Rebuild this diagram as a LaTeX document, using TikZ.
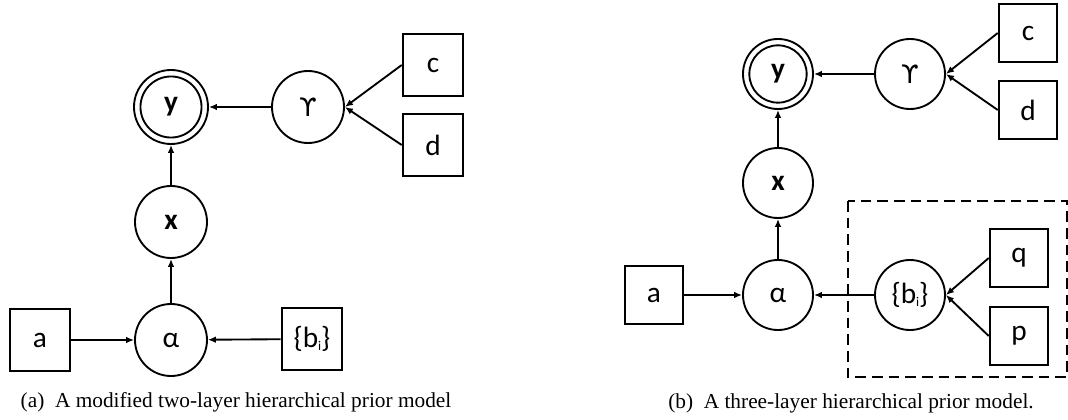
\documentclass[tikz,border=0pt]{standalone}
\usepackage{fontspec}
\setmainfont{Liberation Serif}
\newfontfamily\calfont{Carlito}
\newfontfamily\symfont{DejaVu Sans}
\usetikzlibrary{arrows.meta}
\newcommand{\bsub}{\{b\raisebox{-0.2ex}{\fontsize{10pt}{10pt}\selectfont i}\}}
\newcommand{\ups}{{\symfont\fontsize{19pt}{22pt}\selectfont ϒ}}
\begin{document}
\begin{tikzpicture}[x=0.75pt,y=-0.75pt,
  lbl/.style={font=\calfont\fontsize{22pt}{26pt}\selectfont},
  lw/.style={line width=1.4pt},
  circA/.style={lbl,circle,draw,lw,minimum size=54pt,inner sep=0pt},
  circB/.style={lbl,circle,draw,lw,minimum size=52.5pt,inner sep=0pt},
  boxA/.style={lbl,rectangle,draw,lw,minimum width=45.5pt,minimum height=46.5pt,inner sep=0pt},
  boxB/.style={lbl,rectangle,draw,lw,minimum width=44pt,minimum height=44pt,inner sep=0pt},
  arr/.style={lw,-{Latex[length=6pt,width=5pt]}},
  captext/.style={font=\rmfamily\fontsize{16pt}{19pt}\selectfont,inner sep=0pt}
]
\useasboundingbox (0,0) rectangle (1068,420);
% ---------- panel (a)
\node[circA,minimum size=55.5pt] (ya) at (171,107) {\bfseries y};
\draw[lw] (ya.center) circle (22.9pt);
\node[circA] (ga) at (308,107) {\ups};
\node[boxA] (ca) at (433,65) {c};
\node[boxA] (da) at (433,145) {d};
\node[circA] (xa) at (171,222) {\bfseries x};
\node[circA] (aa) at (171,340) {α};
\node[boxA] (ba) at (40,340) {a};
\node[boxA] (bia) at (312,339) {\bsub};
\draw[arr] (ba) -- (aa);
\draw[arr] (bia) -- (aa);
\draw[arr] (aa) -- (xa);
\draw[arr] (xa) -- (ya);
\draw[arr] (ga) -- (ya);
\draw[arr] (ca.west) -- (ga.east);
\draw[arr] (da.west) -- (ga.east);
\node[captext] (capa) at (236,402) {(a)\ \ A modified two-layer hierarchical prior model};
% ---------- panel (b)
\node[circB] (yb) at (778,74) {\bfseries y};
\draw[lw] (yb.center) circle (21.5pt);
\node[circB] (gb) at (910,74) {\ups};
\node[boxB] (cb) at (1028,33) {c};
\node[boxB] (db) at (1028,110) {d};
\node[circB] (xb) at (778,183) {\bfseries x};
\node[circB] (ab) at (778,295) {α};
\node[boxB] (bb) at (654,295) {a};
\node[circB] (bib) at (910,295) {\bsub};
\node[boxB] (qb) at (1019,258) {q};
\node[boxB] (pb) at (1019,336) {p};
\draw[lw,dash pattern=on 8pt off 4.5pt] (848,201) rectangle (1067,377);
\draw[arr] (bb) -- (ab);
\draw[arr] (bib) -- (ab);
\draw[arr] (ab) -- (xb);
\draw[arr] (xb) -- (yb);
\draw[arr] (gb) -- (yb);
\draw[arr] (cb.west) -- (gb.east);
\draw[arr] (db.west) -- (gb.east);
\draw[arr] (qb.west) -- (bib.east);
\draw[arr] (pb.west) -- (bib.east);
\node[captext] (capb) at (851,403) {(b)\ \ A three-layer hierarchical prior model.};
\end{tikzpicture}
\end{document}
